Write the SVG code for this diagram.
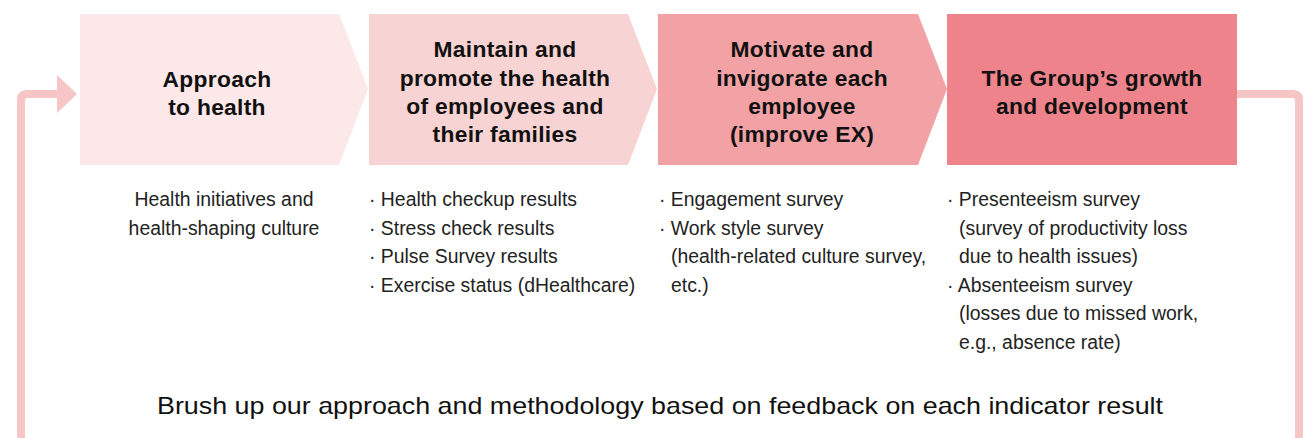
<svg xmlns="http://www.w3.org/2000/svg" width="1304" height="438" viewBox="0 0 1304 438">
<style>
.h{font-family:"Liberation Sans",Arial,sans-serif;font-weight:bold;font-size:22.8px;fill:#111;text-anchor:middle;letter-spacing:0.3px}
.b{font-family:"Liberation Sans",Arial,sans-serif;font-size:19.4px;fill:#222}
.c{text-anchor:middle}
.f{font-family:"Liberation Sans",Arial,sans-serif;font-size:24px;fill:#111}
.loop{fill:none;stroke:#f6c6c6;stroke-width:8;stroke-linejoin:round}
</style>
<rect width="1304" height="438" fill="#fff"/>
<g id="connectors">
<path class="loop" d="M21 445 V100 Q21 94 27 94 H60"/>
<polygon points="57,75 77,94 57,113" fill="#f6c6c6"/>
<path class="loop" d="M1237 94 H1293 Q1299 94 1299 100 V445"/>
</g>
<g id="node1">
<polygon points="80,14 339,14 368,89 339,165 80,165" fill="#fce8e8"/>
<text class="h" x="217" y="87">Approach</text>
<text class="h" x="217" y="115">to health</text>
<text class="b c" x="224" y="206">Health initiatives and</text>
<text class="b c" x="224" y="234.5">health-shaping culture</text>
</g>
<g id="node2">
<polygon points="369,14 628,14 657,89 628,165 369,165" fill="#f8d3d3"/>
<text class="h" x="505" y="57">Maintain and</text>
<text class="h" x="505" y="86">promote the health</text>
<text class="h" x="505" y="114">of employees and</text>
<text class="h" x="505" y="142">their families</text>
<text class="b" x="369" y="206">· Health checkup results</text>
<text class="b" x="369" y="234.5">· Stress check results</text>
<text class="b" x="369" y="263">· Pulse Survey results</text>
<text class="b" x="369" y="291.5">· Exercise status (dHealthcare)</text>
</g>
<g id="node3">
<polygon points="658,14 918,14 947,89 918,165 658,165" fill="#f2a2a5"/>
<text class="h" x="802" y="57">Motivate and</text>
<text class="h" x="802" y="86">invigorate each</text>
<text class="h" x="802" y="114">employee</text>
<text class="h" x="802" y="142">(improve EX)</text>
<text class="b" x="659" y="206">· Engagement survey</text>
<text class="b" x="659" y="234.5">· Work style survey</text>
<text class="b" x="671" y="263">(health-related culture survey,</text>
<text class="b" x="671" y="291.5">etc.)</text>
</g>
<g id="node4">
<rect x="947" y="14" width="290" height="151" fill="#ee838b"/>
<text class="h" x="1092" y="86">The Group’s growth</text>
<text class="h" x="1092" y="114">and development</text>
<text class="b" x="947" y="206">· Presenteeism survey</text>
<text class="b" x="959" y="234.5">(survey of productivity loss</text>
<text class="b" x="959" y="263">due to health issues)</text>
<text class="b" x="947" y="291.5">· Absenteeism survey</text>
<text class="b" x="959" y="320">(losses due to missed work,</text>
<text class="b" x="959" y="348.5">e.g., absence rate)</text>
</g>
<g id="footer">
<text class="f" x="157" y="414" textLength="1006" lengthAdjust="spacingAndGlyphs">Brush up our approach and methodology based on feedback on each indicator result</text>
</g>
</svg>
